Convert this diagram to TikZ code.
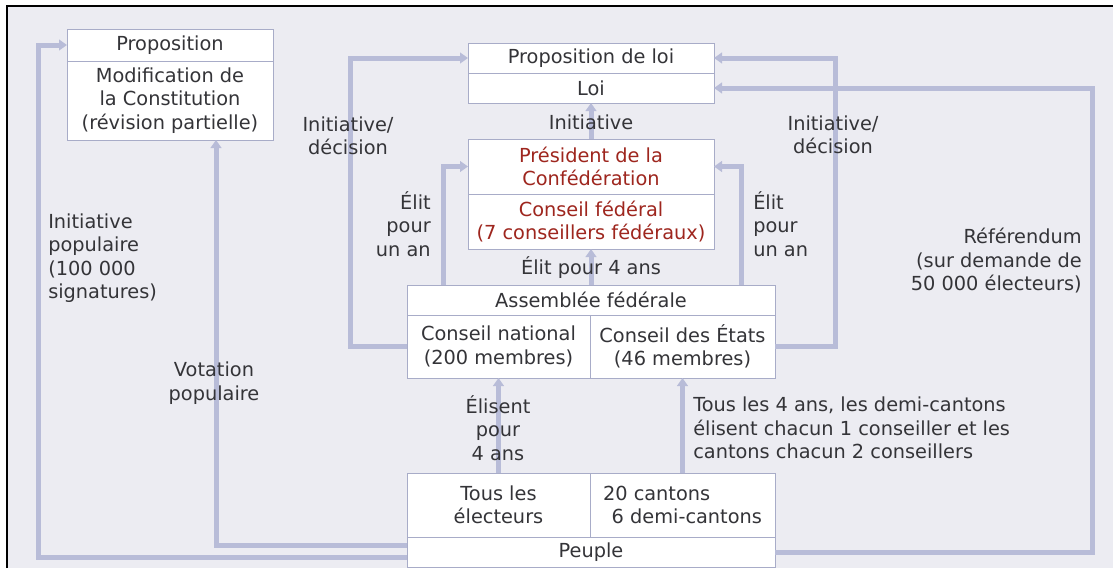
\documentclass[tikz,border=0pt]{standalone}
\usepackage{fontspec}
\setmainfont{DejaVu Sans}
\usepackage{tikz}
\usetikzlibrary{arrows.meta}
\definecolor{fond}{RGB}{236,236,242}
\definecolor{fleche}{RGB}{184,188,216}
\definecolor{cadre}{RGB}{168,172,200}
\definecolor{texte}{RGB}{52,52,56}
\definecolor{rouge}{RGB}{158,38,30}
\newdimen\pxu \pxu=0.75pt
\newcommand{\txt}{\fontsize{14.5}{17.6}\selectfont}

\begin{document}
\begin{tikzpicture}[x=0.75pt,y=-0.75pt,
       cell/.style={draw=cadre,fill=white,line width=1\pxu,inner sep=0pt,
         outer sep=0pt,align=center,text=texte,font=\txt},
       lbl/.style={inner sep=0pt,text=texte,font=\txt},
       flow/.style={draw=fleche,line width=5\pxu,
         -{Triangle[width=8pt,length=6pt]}}]
       \useasboundingbox (0,0) rectangle (1113,568);
       \fill[white] (0,0) rectangle (1113,568);
       \fill[fond] (7,6) rectangle (1113,568);
       \draw[line width=1.5\pxu] (7,568) -- (7,6) -- (1113,6);

       \node[cell,minimum width=206\pxu,minimum height=32\pxu] (prop) at (170,45) {Proposition};
       \node[cell,minimum width=206\pxu,minimum height=79\pxu] (modif) at (170,100.5)
         {Modification de\\la Constitution\\(révision partielle)};
       \node[cell,minimum width=246\pxu,minimum height=30\pxu] (propLoi) at (591,58) {Proposition de loi};
       \node[cell,minimum width=246\pxu,minimum height=30\pxu] (loi) at (591,88) {Loi};
       \node[cell,text=rouge,minimum width=246\pxu,minimum height=55\pxu] (president) at (591,166.5)
         {Président de la\\Confédération};
       \node[cell,text=rouge,minimum width=246\pxu,minimum height=55\pxu] (conseilfed) at (591,221.5)
         {Conseil fédéral\\(7 conseillers fédéraux)};
       \node[cell,minimum width=368\pxu,minimum height=30\pxu] (assemblee) at (591,300) {Assemblée fédérale};
       \node[cell,minimum width=183\pxu,minimum height=63\pxu] (natl) at (498.5,346.5)
         {Conseil national\\(200 membres)};
       \node[cell,minimum width=185\pxu,minimum height=63\pxu] (etats) at (682.5,346.5)
         {Conseil des États\\(46 membres)};
       \node[cell,minimum width=183\pxu,minimum height=64\pxu] (electeurs) at (498.5,505)
         {Tous les\\électeurs};
       \node[cell,align=left,minimum width=185\pxu,minimum height=64\pxu] (cantons) at (682.5,505)
         {20 cantons\\\hspace*{0.45em}6 demi-cantons};
       \node[cell,minimum width=368\pxu,minimum height=30\pxu] (peuple) at (591,552) {Peuple};

       \draw[flow] ([yshift=-5\pxu]peuple.west) -- (38,557) |- (prop.west);
       \draw[flow] ([yshift=7\pxu]peuple.west) -| ([xshift=46\pxu]modif.south);
       \draw[flow] (natl.west) -- ++(-57,0) |- (propLoi.west);
       \draw[flow] (etats.east) -- ++(60,0) |- (propLoi.east);
       \draw[flow] (peuple.east) -- ++(317,0) |- (loi.east);
       \draw[flow] ([xshift=-148\pxu]assemblee.north) |- (president.west);
       \draw[flow] ([xshift=150\pxu]assemblee.north) |- (president.east);
       \draw[flow] (president.north) -- (loi.south);
       \draw[flow] (assemblee.north) -- (conseilfed.south);
       \draw[flow] (electeurs.north) -- (natl.south);
       \draw[flow] (cantons.north) -- (etats.south);

       \node[lbl,anchor=west,align=left] (lblPop) at (48,258) {Initiative\\populaire\\(100 000\\signatures)};
       \node[lbl,align=center] (lblVot) at (214,383) {Votation\\populaire};
       \node[lbl,align=center] (lblInitL) at (348,136) {Initiative/\\décision};
       \node[lbl,align=center] (lblInitR) at (833,135) {Initiative/\\décision};
       \node[lbl] (lblInit) at (591,122) {Initiative};
       \node[lbl,anchor=east,align=right] (lblElitL) at (431,224) {Élit\\pour\\un an};
       \node[lbl,anchor=west,align=left] (lblElitR) at (753,224) {Élit\\pour\\un an};
       \node[lbl] (lbl4ans) at (591,268) {Élit pour 4 ans};
       \node[lbl,align=center] (lblElisent) at (498,428) {Élisent\\pour\\4 ans};
       \node[lbl,anchor=west,align=left] (lblCantons) at (693,428)
         {Tous les 4 ans, les demi-cantons\\élisent chacun 1 conseiller et les\\cantons chacun 2 conseillers};
       \node[lbl,anchor=east,align=right] (lblRef) at (1082,261)
         {Référendum\\(sur demande de\\50 000 électeurs)};
\end{tikzpicture}
\end{document}
